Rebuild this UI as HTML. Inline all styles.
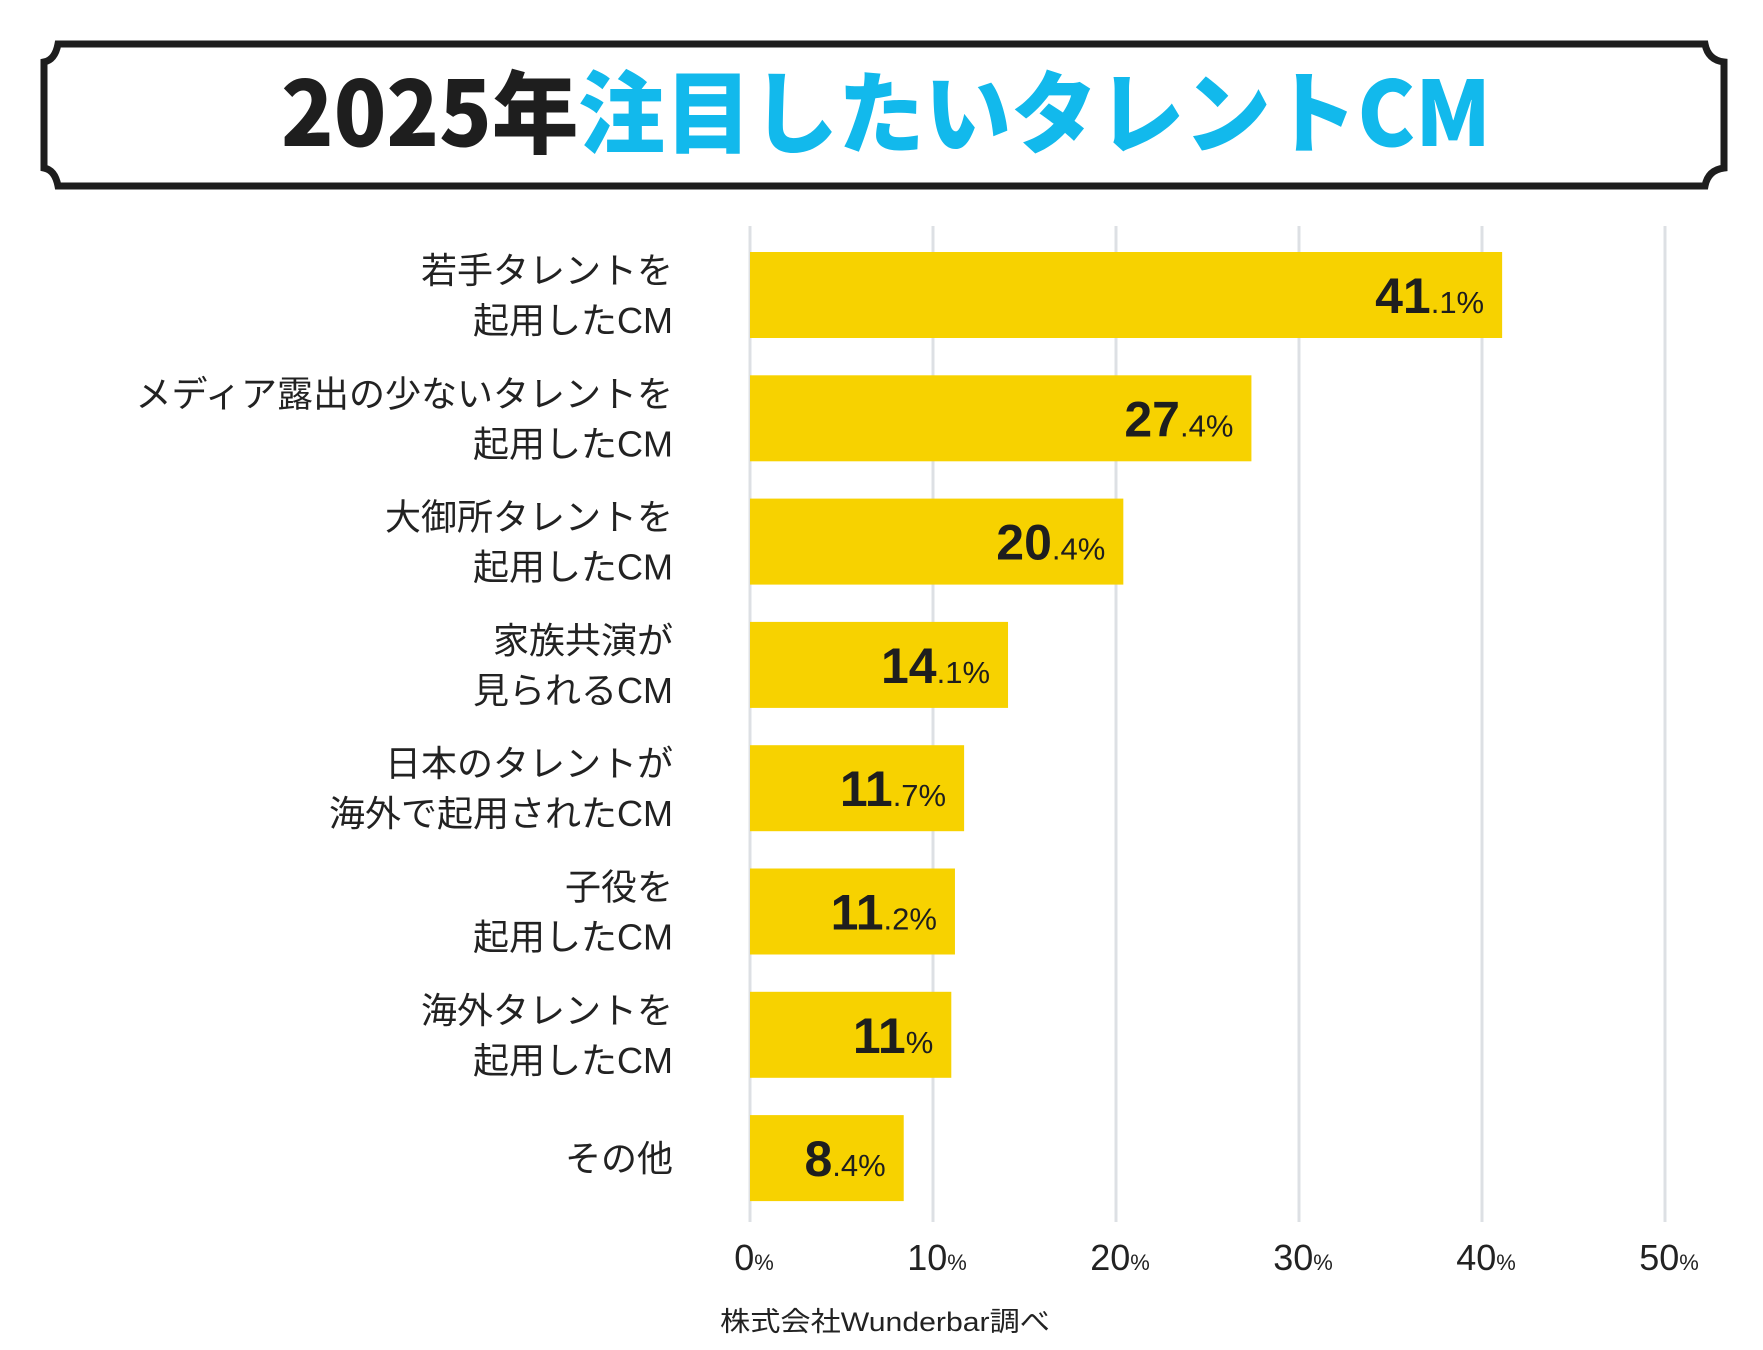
<!DOCTYPE html>
<html><head><meta charset="utf-8"><style>
html,body{margin:0;padding:0;background:#fff;}
svg{display:block;}
text{font-family:"Liberation Sans","Noto Sans CJK JP",sans-serif;}
</style></head><body>
<svg id="chart" width="1763" height="1350" viewBox="0 0 1763 1350">
  <path d="M58,44 H1705 Q1708,60 1724,62 V168 Q1708,170 1705,186 H58 Q55,170 44,168 V62 Q55,60 58,44 Z" fill="#fff" stroke="#1e1e1e" stroke-width="7"/>
  <text x="886" y="146" text-anchor="middle" font-size="90" font-weight="900" style="font-family:'Noto Sans CJK JP',sans-serif" textLength="1210" lengthAdjust="spacingAndGlyphs"><tspan fill="#1e1e1e">2025年</tspan><tspan fill="#12b9ec">注目したいタレントCM</tspan></text>
  <g id="grid"></g>
  <g id="bars"></g>
  <g id="labels"></g>
  <g id="ticks"></g>
  <text x="885" y="1331" text-anchor="middle" font-size="27" fill="#222" textLength="330" lengthAdjust="spacingAndGlyphs">株式会社Wunderbar調べ</text>
</svg>
<script>
const categories = [["若手タレントを","起用したCM"],["メディア露出の少ないタレントを","起用したCM"],["大御所タレントを","起用したCM"],["家族共演が","見られるCM"],["日本のタレントが","海外で起用されたCM"],["子役を","起用したCM"],["海外タレントを","起用したCM"],["その他"]];
const values = [41.1,27.4,20.4,14.1,11.7,11.2,11,8.4];
const tickValues = [0,10,20,30,40,50];
const tickLabels = ["0","10","20","30","40","50"];

const NS="http://www.w3.org/2000/svg";
const x0=750, pxPer=18.3, top0=252, pitch=123.3, barH=86;
const xs=v=>x0+v*pxPer;
const ys=i=>top0+i*pitch;
function mk(tag,attrs,parent){const e=document.createElementNS(NS,tag);for(const k in attrs)e.setAttribute(k,attrs[k]);parent.appendChild(e);return e;}
const grid=document.getElementById('grid'),bars=document.getElementById('bars'),labels=document.getElementById('labels'),ticks=document.getElementById('ticks');
tickValues.forEach((t,i)=>{
  const l=mk('line',{x1:xs(t),x2:xs(t),y1:226,y2:1222,stroke:'#dde0e4','stroke-width':3},grid);
  
  
  const tx=mk('text',{x:xs(t)+4,y:1270,'text-anchor':'middle','font-size':36,fill:'#222','font-family':'Liberation Sans Narrow, Liberation Sans, sans-serif'},ticks);
  
  
  tx.innerHTML=tickLabels[i]+'<tspan font-size="22">%</tspan>';
});
values.forEach((v,i)=>{
  const y=ys(i);
  const r=mk('rect',{x:x0,y:y,width:xs(v)-x0,height:barH,fill:'#f7d200'},bars);
  
  
  const s=String(v).split('.');
  const vt=mk('text',{x:xs(v)-18,y:y+barH/2+18,'text-anchor':'end','font-size':50,'font-weight':'bold',fill:'#1e1e1e','font-family':'Liberation Sans Narrow, Liberation Sans, sans-serif'},labels);
  
  
  vt.innerHTML=s[0]+'<tspan font-size="31" font-weight="normal">'+(s[1]?'.'+s[1]:'')+'%</tspan>';
  const lines=categories[i];
  lines.forEach((ln,j)=>{
    const cy=y+barH/2+13+(lines.length===2?(j===0?-25:25):0);
    const ct=mk('text',{x:673,y:cy,'text-anchor':'end','font-size':36,fill:'#222'},labels);
    
    
    ct.textContent=ln;
  });
});
</script>
</body></html>
